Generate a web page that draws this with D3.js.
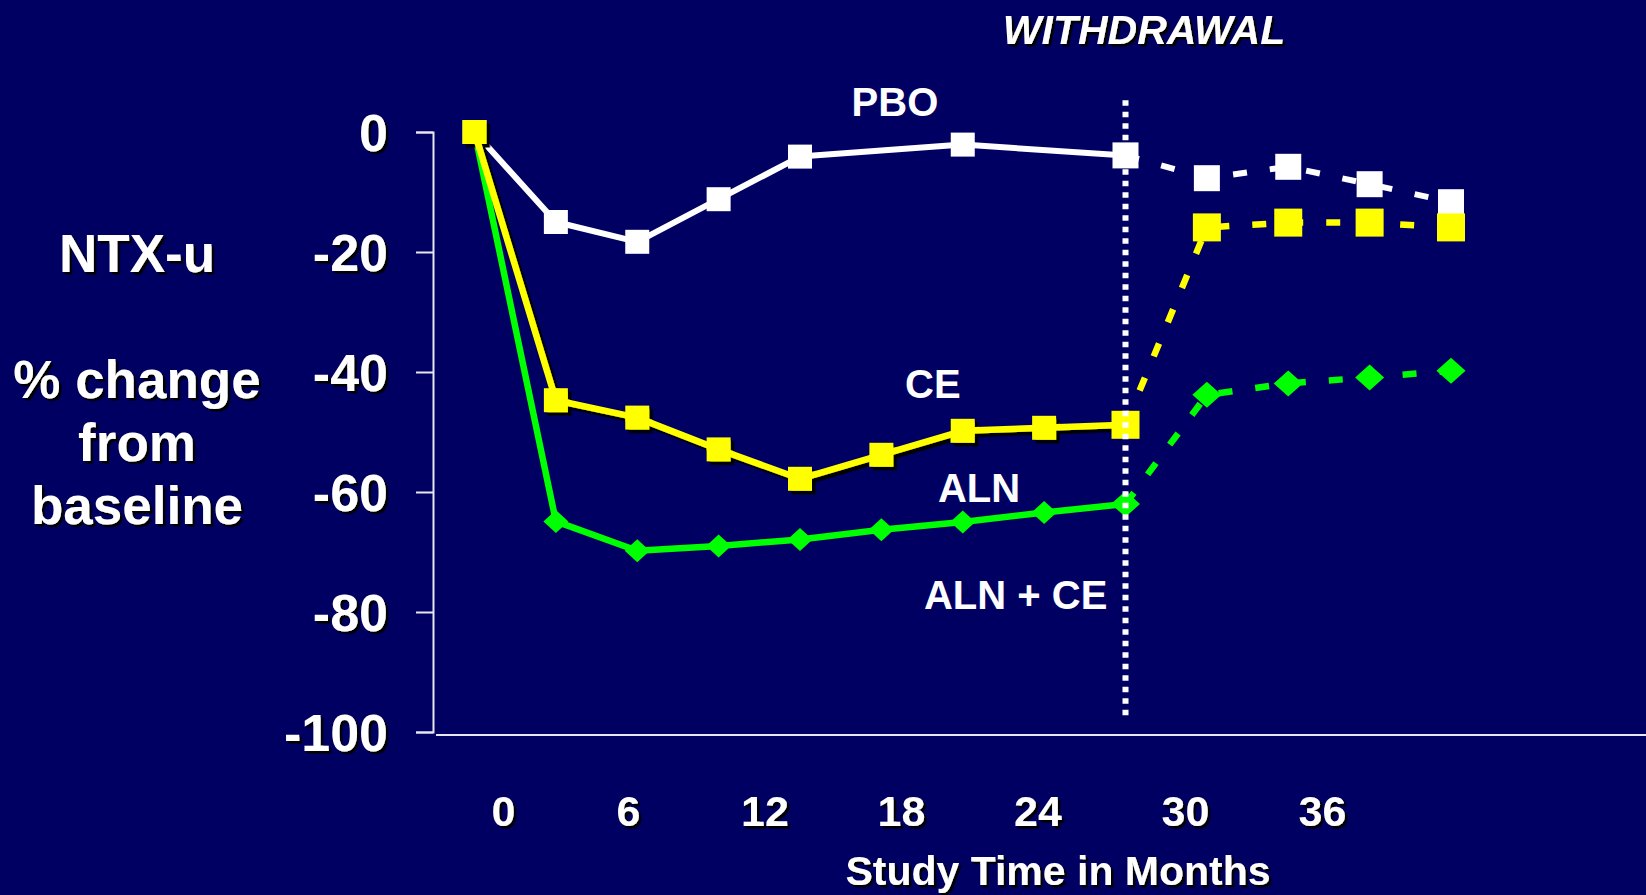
<!DOCTYPE html>
<html><head><meta charset="utf-8">
<script src="https://cdn.jsdelivr.net/npm/d3@7"></script>
<style>
html,body{margin:0;padding:0;background:#000063;overflow:hidden}
svg{display:block}
text{font-family:"Liberation Sans",Arial,Helvetica,sans-serif;font-weight:bold;fill:#fff}
</style></head><body><svg id="chart" width="1646" height="895"></svg>
<script>
// ---- data ----
const months = [0, 3, 6, 9, 12, 15, 18, 21, 24, 27, 30, 33, 36];
const pboValues   = [0, -15, -18.3, -11.2, -4.1, null, -2.1, null, -3.9, -7.7, -5.8, -8.7, -11.7];
const ceValues    = [0, -44.7, -47.6, -52.9, -57.8, -53.8, -49.8, -49.3, -48.8, -15.9, -15.1, -15.1, -15.9];
const alnCeValues = [0, -64.9, -69.8, -69.0, -67.9, -66.3, -65.0, -63.4, -62.0, -43.8, -41.9, -40.9, -39.8];
const yTicks = [0, -20, -40, -60, -80, -100];
const xTickLabels = [0, 6, 12, 18, 24, 30, 36];
const withdrawalMonth = 24;
const seriesNames = ["PBO", "CE", "ALN", "ALN + CE"];
const seriesLabelMonths = [15.5, 16.9, 18.6, 19.95];
const seriesLabelValues = [2.7, -44.3, -61.7, -79.5];
const yTitleLines = ["NTX-u", "", "% change", "from", "baseline"];

// ---- setup ----
const W = 1646, H = 895;
const svg = d3.select("#chart");
const defs = svg.append("defs");
defs.append("filter").attr("id", "tshadow").attr("x", "-10%").attr("y", "-10%").attr("width", "130%").attr("height", "140%")
  .append("feDropShadow").attr("dx", 2.5).attr("dy", 2.5).attr("stdDeviation", 0.5)
  .attr("flood-color", "#000").attr("flood-opacity", 1);
defs.append("filter").attr("id", "mshadow").attr("x", "-20%").attr("y", "-20%").attr("width", "150%").attr("height", "150%")
  .append("feDropShadow").attr("dx", 3.5).attr("dy", 3.5).attr("stdDeviation", 0.3)
  .attr("flood-color", "#000").attr("flood-opacity", 1);

svg.append("rect").attr("width", W).attr("height", H).attr("fill", "#000063");

const x = d3.scaleLinear().domain([0, 36]).range([474.5, 1451]);
const y = d3.scaleLinear().domain([-100, 0]).range([732, 132]);
// tick labels of the slide are not placed linearly in time
const xLabelScale = d3.scaleLinear().domain([0, 6, 24, 30, 36]).range([503, 628, 1037.5, 1185, 1322]);

// ---- y axis ----
const yAxisX = 433;
const yAxis = svg.append("g").attr("transform", `translate(${yAxisX},0)`)
  .call(d3.axisLeft(y).tickValues(yTicks).tickSize(17).tickPadding(28).tickFormat(d => String(d)));
yAxis.attr("font-family", null).attr("font-size", null);
yAxis.select(".domain").attr("stroke", "#e6e6ee").attr("stroke-width", 2);
yAxis.selectAll(".tick line").attr("stroke", "#e6e6ee").attr("stroke-width", 2);
yAxis.selectAll(".tick text").attr("fill", "#fff").style("font-size", "52px").attr("dy", "0.36em")
  .attr("filter", "url(#tshadow)");

// ---- x axis ----
const xBaseY = y(-100) + 3;
svg.append("line").attr("x1", yAxisX + 3).attr("x2", W).attr("y1", xBaseY).attr("y2", xBaseY)
  .attr("stroke", "#e6e6ee").attr("stroke-width", 2);
const xAxis = svg.append("g").attr("transform", `translate(0,${xBaseY})`)
  .call(d3.axisBottom(xLabelScale).tickValues(xTickLabels).tickSize(0).tickPadding(0).tickFormat(d => String(d)));
xAxis.attr("font-family", null).attr("font-size", null);
xAxis.select(".domain").remove();
xAxis.selectAll(".tick text").attr("fill", "#fff").style("font-size", "43px")
  .attr("y", 91).attr("dy", 0).attr("filter", "url(#tshadow)");

svg.append("text").attr("x", 1058).attr("y", 885).attr("text-anchor", "middle")
  .style("font-size", "41px").attr("filter", "url(#tshadow)").text("Study Time in Months");

// y title
const yt = svg.append("text").attr("text-anchor", "middle").style("font-size", "53px").attr("filter", "url(#tshadow)");
yTitleLines.forEach((t, i) => {
  yt.append("tspan").attr("x", 137).attr("y", 272 + i * 63).text(t);
});

// ---- series ----
const line = d3.line().x(d => x(d.m)).y(d => y(d.v));
function pts(vals) {
  return months.map((m, i) => ({ m, v: vals[i] })).filter(d => d.v !== null);
}
function squarePath(s) {
  const h = s / 2;
  return `M${-h},${-h}H${h}V${h}H${-h}Z`;
}
function diamondPath(w, h) {
  return `M0,${-h}L${w},0L0,${h}L${-w},0Z`;
}
function drawSeries(vals, color, opts) {
  const p = pts(vals);
  const solid = p.filter(d => d.m <= withdrawalMonth);
  const dashed = p.filter(d => d.m >= withdrawalMonth);
  const gSolid = svg.append("g");
  if (opts.shadow) gSolid.attr("filter", "url(#mshadow)");
  gSolid.append("path").datum(solid).attr("d", line).attr("fill", "none")
    .attr("stroke", color).attr("stroke-width", opts.width).attr("stroke-linejoin", "round");
  const gDash = svg.append("g");
  gDash.append("path").datum(dashed).attr("d", line).attr("fill", "none")
    .attr("stroke", color).attr("stroke-width", opts.width).attr("stroke-dasharray", "14,23");
  const markSolid = solid.filter(d => d.m < withdrawalMonth);
  const markBig = dashed;
  const shape = (d, big) => opts.diamond
    ? diamondPath(big ? 14.5 : 12.5, big ? 13 : 11.5)
    : squarePath(big ? opts.bigSize : 24);
  gSolid.selectAll("path.mk").data(markSolid).join("path").attr("class", "mk")
    .attr("transform", d => `translate(${x(d.m)},${y(d.v)})`).attr("d", d => shape(d, false)).attr("fill", color);
  gDash.selectAll("path.mk").data(markBig).join("path").attr("class", "mk")
    .attr("transform", d => `translate(${x(d.m)},${y(d.v)})`).attr("d", d => shape(d, true)).attr("fill", color);
}
drawSeries(pboValues, "#ffffff", { width: 6, diamond: false, bigSize: 26, shadow: false });
drawSeries(alnCeValues, "#00ff00", { width: 6.5, diamond: true, shadow: false });
drawSeries(ceValues, "#ffff00", { width: 6.5, diamond: false, bigSize: 28, shadow: true });

// withdrawal divider
svg.append("line").attr("x1", x(withdrawalMonth)).attr("x2", x(withdrawalMonth))
  .attr("y1", y(5.3)).attr("y2", y(-97.7))
  .attr("stroke", "#fff").attr("stroke-width", 6).attr("stroke-dasharray", "5.5,6");

svg.append("text").attr("x", 1144).attr("y", 44).attr("text-anchor", "middle")
  .style("font-size", "41px").style("font-style", "italic").attr("filter", "url(#tshadow)").text("WITHDRAWAL");

// series labels
seriesNames.forEach((n, i) => {
  svg.append("text").attr("x", x(seriesLabelMonths[i])).attr("y", y(seriesLabelValues[i]))
    .attr("text-anchor", "middle").style("font-size", "40px").text(n);
});
</script></body></html>
